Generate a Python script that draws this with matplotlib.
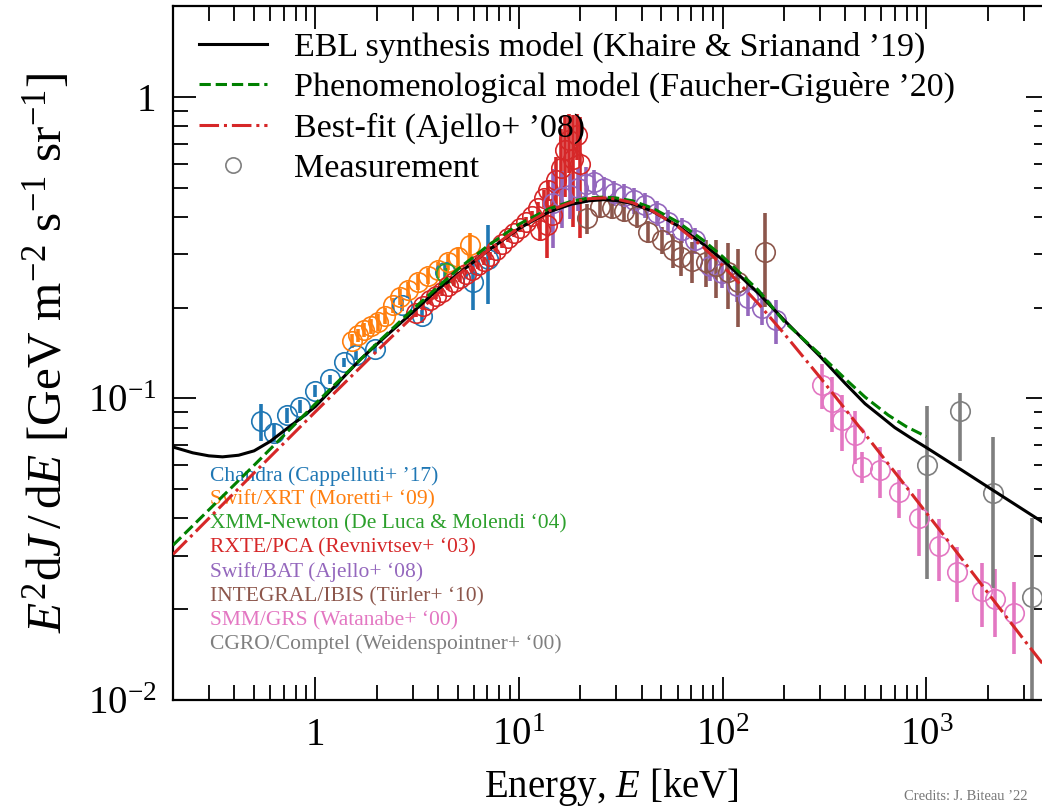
import matplotlib
matplotlib.use("Agg")
import matplotlib.pyplot as plt
from matplotlib.lines import Line2D
from matplotlib.ticker import FixedLocator, FixedFormatter, LogLocator, NullFormatter

# E in keV, E^2 dJ/dE in GeV m^-2 s^-1 sr^-1

# models
ebl_E = [0.2, 0.25, 0.3, 0.35, 0.42, 0.5, 0.6, 0.7, 0.85, 1.0, 1.3, 1.65, 2.2, 2.9, 4, 5, 7, 10,
         14, 18, 22, 26, 30, 36, 45, 60, 80, 100, 150, 200, 268, 300, 400, 500, 600, 700, 850,
         1000, 1500, 2000, 3000, 4000]
ebl_F = [0.069, 0.066, 0.0645, 0.064, 0.0648, 0.067, 0.072, 0.078, 0.086, 0.094, 0.113, 0.134,
         0.160, 0.189, 0.230, 0.258, 0.308, 0.366, 0.415, 0.440, 0.452, 0.456, 0.453, 0.443,
         0.418, 0.374, 0.325, 0.288, 0.223, 0.182, 0.149, 0.138, 0.112, 0.096, 0.087, 0.080,
         0.0735, 0.0687, 0.0577, 0.0509, 0.0427, 0.0377]

fg_E = [0.2, 0.5, 1, 2, 3, 5, 7, 10, 14, 18, 22, 26, 30, 36, 45, 60, 80, 100, 150, 200, 300,
        400, 500, 650, 800, 1000]
fg_F = [0.0326, 0.060, 0.096, 0.152, 0.197, 0.268, 0.320, 0.378, 0.425, 0.450, 0.462, 0.465,
        0.462, 0.452, 0.428, 0.385, 0.335, 0.295, 0.228, 0.180, 0.140, 0.116, 0.101, 0.088,
        0.0805, 0.0747]

aj_E = [0.2, 0.5, 1, 2, 3, 5, 7, 10, 14, 18, 22, 26, 30, 36, 45, 60, 80, 100, 150, 200, 300,
        500, 800, 1200, 2000, 3000, 4000]
aj_F = [0.0304, 0.0566, 0.0903, 0.1433, 0.1864, 0.2555, 0.3088, 0.368, 0.4185, 0.4464, 0.4593,
        0.4621, 0.4584, 0.4456, 0.419, 0.3719, 0.3179, 0.2756, 0.2057, 0.1641, 0.1176, 0.0761,
        0.0507, 0.0356, 0.0227, 0.0159, 0.0124]

# measurements
chandra_E = [0.543, 0.625, 0.726, 0.845, 0.993, 1.18, 1.39, 1.59, 1.96, 2.65, 3.32, 4.32, 5.94, 7.03]
chandra_F = [0.084, 0.077, 0.088, 0.094, 0.106, 0.116, 0.132, 0.139, 0.146, 0.204, 0.187, 0.263,
             0.243, 0.290]
chandra_s = [0.012, 0.0055, 0.005, 0.0045, 0.005, 0.004, 0.0045, 0.005, 0.005, 0.0095, 0.009,
             0.015, 0.047, 0.085]

xrt_E = [1.51, 1.62, 1.73, 1.87, 2.03, 2.19, 2.40, 2.60, 2.85, 3.19, 3.57, 4.00, 4.47, 5.01, 5.74]
xrt_F = [0.155, 0.162, 0.169, 0.174, 0.179, 0.188, 0.204, 0.217, 0.229, 0.243, 0.255, 0.267,
         0.284, 0.295, 0.323]
xrt_s = [0.008, 0.008, 0.009, 0.010, 0.012, 0.012, 0.012, 0.013, 0.014, 0.015, 0.015, 0.016,
         0.018, 0.020, 0.030]

xmm_E = [4.4]
xmm_F = [0.26]
xmm_s = [0.01]

rxte_E = [3.11, 3.37, 3.65, 3.91, 4.18, 4.47, 4.79, 5.12, 5.48, 5.87, 6.28, 6.72, 7.19, 7.70,
          8.24, 8.82, 9.44, 10.1, 10.8, 11.6, 12.4, 13.3, 13.9, 12.7, 14.5, 13.7, 15.2, 16.1,
          16.8, 17.6, 18.4, 19.3, 19.9]
rxte_F = [0.192, 0.203, 0.212, 0.219, 0.226, 0.236, 0.243, 0.251, 0.259, 0.267, 0.277, 0.286,
          0.297, 0.311, 0.326, 0.341, 0.354, 0.368, 0.385, 0.403, 0.428, 0.462, 0.491, 0.362,
          0.406, 0.376, 0.53, 0.58, 0.667, 0.72, 0.62, 0.748, 0.60]
rxte_s = [0.006, 0.006, 0.006, 0.006, 0.007, 0.007, 0.007, 0.008, 0.008, 0.008, 0.009, 0.009,
          0.009, 0.010, 0.010, 0.011, 0.011, 0.012, 0.013, 0.014, 0.02, 0.03, 0.04, 0.03,
          0.05, 0.085, 0.10, 0.20, 0.20, 0.16, 0.25, 0.13, 0.26]

bat_E = [14.7, 16.3, 17.8, 19.5, 21.3, 23.3, 26.1, 29.3, 32.8, 36.7, 41.6, 47.6, 53.9, 63.2,
         73.2, 86.7, 99.3, 117.7, 133.3, 156.2, 183.0]
bat_F = [0.445, 0.466, 0.473, 0.499, 0.515, 0.523, 0.499, 0.481, 0.470, 0.455, 0.438, 0.412,
         0.385, 0.362, 0.335, 0.275, 0.261, 0.236, 0.215, 0.200, 0.182]
bat_s = [0.13, 0.10, 0.08, 0.08, 0.07, 0.05, 0.045, 0.045, 0.045, 0.045, 0.042, 0.040, 0.037,
         0.035, 0.033, 0.030, 0.028, 0.027, 0.028, 0.025, 0.030]

ibis_E = [21.6, 25.0, 28.6, 32.8, 38.0, 43.0, 50.4, 57.1, 62.5, 70.7, 82.9, 92.8, 106.3, 119.1, 161.6]
ibis_F = [0.397, 0.432, 0.428, 0.419, 0.403, 0.357, 0.335, 0.311, 0.295, 0.286, 0.284, 0.275,
          0.263, 0.243, 0.306]
ibis_s = [0.045, 0.035, 0.035, 0.035, 0.035, 0.030, 0.035, 0.040, 0.040, 0.045, 0.050, 0.060,
          0.065, 0.070, 0.105]

smm_E = [307, 344, 385, 447, 483, 594, 730, 916, 1148, 1414, 1877, 2181, 2682]
smm_F = [0.111, 0.0976, 0.0849, 0.0757, 0.0594, 0.0579, 0.0491, 0.0401, 0.0323, 0.0266, 0.0229,
         0.0217, 0.0194]
smm_s = [0.019, 0.020, 0.018, 0.015, 0.007, 0.011, 0.009, 0.010, 0.0074, 0.0055, 0.0055,
         0.0055, 0.0052]

comptel_E = [1007, 1467, 2125, 3303]
comptel_F = [0.0602, 0.0911, 0.0485, 0.0220]
comptel_lo = [0.035, 0.029, 0.025, 0.020]
comptel_hi = [0.034, 0.013, 0.026, 0.018]

labels = ["Chandra (Cappelluti+ \u201917)", "Swift/XRT (Moretti+ \u201809)",
          "XMM-Newton (De Luca & Molendi \u201804)", "RXTE/PCA (Revnivtsev+ \u201803)",
          "Swift/BAT (Ajello+ \u201808)", "INTEGRAL/IBIS (T\u00fcrler+ \u201810)",
          "SMM/GRS (Watanabe+ \u201800)", "CGRO/Comptel (Weidenspointner+ \u201800)"]
colors = ["#1f77b4", "#ff7f0e", "#2ca02c", "#d62728", "#9467bd", "#8c564b", "#e377c2", "#7f7f7f"]

plt.rcParams["font.family"] = ["Liberation Serif", "DejaVu Serif"]
plt.rcParams["mathtext.fontset"] = "custom"
plt.rcParams["mathtext.rm"] = "Liberation Serif"
plt.rcParams["mathtext.it"] = "Liberation Serif:italic"
plt.rcParams["mathtext.bf"] = "Liberation Serif:bold"

fig = plt.figure(figsize=(10.42, 8.10), dpi=100)
ax = fig.add_axes([173 / 1042, 110 / 810, 876 / 1042, 694 / 810])

series = [(chandra_E, chandra_F, chandra_s), (xrt_E, xrt_F, xrt_s), (xmm_E, xmm_F, xmm_s),
          (rxte_E, rxte_F, rxte_s), (bat_E, bat_F, bat_s), (ibis_E, ibis_F, ibis_s),
          (smm_E, smm_F, smm_s), (comptel_E, comptel_F, [comptel_lo, comptel_hi])]
for (E, F, err), c in zip(series, colors):
    ax.errorbar(E, F, yerr=err, fmt="o", mfc="none", mec=c, ecolor=c, ms=14, mew=1.2,
                elinewidth=2.6, capsize=0, zorder=2)

ax.plot(ebl_E, ebl_F, color="k", lw=2.2, zorder=4)
ax.plot(fg_E, fg_F, color="green", ls="--", lw=2.2, zorder=4)
ax.plot(aj_E, aj_F, color="#d62728", ls="-.", lw=2.2, zorder=4)

ax.set_xscale("log"); ax.set_yscale("log")
ax.set_xlim(0.2, 4000); ax.set_ylim(0.01, 2)

ax.xaxis.set_major_locator(FixedLocator([1, 10, 100, 1000]))
ax.xaxis.set_major_formatter(FixedFormatter(["1", "$10^{1}$", "$10^{2}$", "$10^{3}$"]))
ax.xaxis.set_minor_locator(LogLocator(base=10, subs=range(2, 10), numticks=20))
ax.xaxis.set_minor_formatter(NullFormatter())
ax.yaxis.set_major_locator(FixedLocator([0.01, 0.1, 1]))
ax.yaxis.set_major_formatter(FixedFormatter(["$10^{-2}$", "$10^{-1}$", "1"]))
ax.yaxis.set_minor_locator(LogLocator(base=10, subs=range(2, 10), numticks=20))
ax.yaxis.set_minor_formatter(NullFormatter())

ax.tick_params(which="both", direction="in", top=True, right=True, width=1.3)
ax.tick_params(which="major", length=16.5, labelsize=28, pad=12)
ax.tick_params(which="minor", length=11)
for s in ax.spines.values():
    s.set_linewidth(1.6)

ax.set_xlabel("Energy, $E$ [keV]", fontsize=28, labelpad=9)
ax.set_ylabel(r"$E^2\mathrm{d}J\,/\,\mathrm{d}E$ [GeV m$^{-2}$ s$^{-1}$ sr$^{-1}$]",
              fontsize=35.5, labelpad=11)

handles = [Line2D([], [], color="k", lw=2.2),
           Line2D([], [], color="green", ls="--", lw=2.2),
           Line2D([], [], color="#d62728", ls="-.", lw=2.2),
           Line2D([], [], color="#7f7f7f", ls="none", marker="o", mfc="none", ms=11, mew=1.2)]
leg_labels = ["EBL synthesis model (Khaire & Srianand \u201919)",
              "Phenomenological model (Faucher-Gigu\u00e8re \u201920)",
              "Best-fit (Ajello+ \u201908)", "Measurement"]
ax.legend(handles, leg_labels, loc="upper left", bbox_to_anchor=(0.0, 1.0), frameon=False,
          fontsize=24.5, handlelength=2.0, handletextpad=0.8, labelspacing=0.27,
          borderaxespad=0.35)

for i, (lab, c) in enumerate(zip(labels, colors)):
    ax.text(0.042, 0.3228 - i * 0.0347, lab, color=c, fontsize=15.5, va="center",
            transform=ax.transAxes)

fig.text(0.868, 0.012, "Credits: J. Biteau \u201922", fontsize=10.5, color="#777777")

fig.savefig("out.png", dpi=100)
